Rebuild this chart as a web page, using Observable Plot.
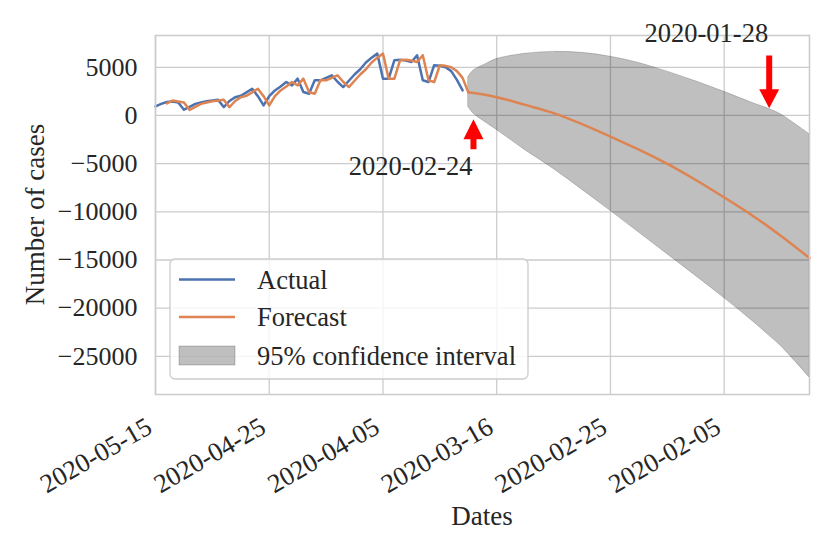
<!DOCTYPE html>
<html>
<head>
<meta charset="utf-8">
<script src="https://cdn.jsdelivr.net/npm/d3@7"></script>
<script src="https://cdn.jsdelivr.net/npm/@observablehq/plot@0.6"></script>
<style>
  body { margin: 0; background: white; }
</style>
</head>
<body>
<div id="chart"></div>
<script>
// ---- data ----
const actualStart = "2020-05-15"; // day 0; one value per day going back in time
const actualValues = [950,1200,1400,1450,1350,600,900,1200,1350,1480,1550,1620,870,1500,1900,2050,2400,2780,2000,1040,2000,2600,3000,3470,3120,3820,2430,2260,3650,3650,3900,4170,3500,2950,3600,4250,4800,5500,6000,6420,3820,3820,5730,5780,5700,5550,6250,3650,3470,5210,5150,5000,4600,3700,2600];

const fittedStart = "2020-05-13"; // in-sample forecast, one value per day going back
const fittedValues = [1250,1550,1450,1350,580,900,1200,1350,1480,1550,1620,850,1500,1900,2050,2400,2780,2000,1040,2000,2600,3000,3470,3120,3820,2430,2260,3650,3650,3900,4170,3500,2950,3600,4250,4800,5500,6000,6420,3820,3820,5730,5780,5700,5550,6250,3650,3470,5210,5150,5000,4600,3900];

const forecastDates = ["2020-03-21","2020-03-16","2020-03-11","2020-03-06","2020-03-01","2020-02-25","2020-02-20","2020-02-15","2020-02-10","2020-02-05","2020-01-31","2020-01-26","2020-01-21"];
const forecastValues = [2400,1900,1100,250,-900,-2190,-3550,-5030,-6700,-8510,-10400,-12500,-14800];

const ciDates = ["2020-03-21","2020-03-20","2020-03-18","2020-03-16","2020-03-11","2020-03-06","2020-03-01","2020-02-25","2020-02-20","2020-02-15","2020-02-10","2020-02-05","2020-01-31","2020-01-28","2020-01-26","2020-01-21"];
const ciUpper = [4000,4700,5300,5850,6400,6600,6500,6100,5450,4550,3550,2450,1300,650,100,-1950];
const ciLower = [870,150,-700,-1500,-3600,-5550,-7700,-9900,-12150,-14400,-16650,-18950,-21350,-22900,-23950,-27200];

const xTickLabels = ["2020-05-15","2020-04-25","2020-04-05","2020-03-16","2020-02-25","2020-02-05"];
const yTicks = [5000,0,-5000,-10000,-15000,-20000,-25000];
const xDomain = ["2020-05-15","2020-01-21"];
const yDomain = [-28960, 8300];

const seriesNames = ["Actual","Forecast","95% confidence interval"];
const seriesColors = ["#4c72b0","#dd8452","#000000"];

const annotations = [
  {label: "2020-02-24", date: "2020-03-20", tip: -450, tail: -3560, textAt: -6230, headLen: 20},
  {label: "2020-01-28", date: "2020-01-28", tip: 700, tail: 6160, textAt: 7610, headLen: 19}
];

// ---- build rows ----
const parse = d3.utcParse("%Y-%m-%d");
const fmt = d3.utcFormat("%Y-%m-%d");
const actualRows = actualValues.map((v, i) => ({date: d3.utcDay.offset(parse(actualStart), -i), value: v}));
const fittedRows = fittedValues.map((v, i) => ({date: d3.utcDay.offset(parse(fittedStart), -i), value: v}));
const outRows = forecastDates.map((d, i) => ({date: parse(d), value: forecastValues[i]}));
const fittedJoined = fittedRows.concat(outRows.slice(0, 1));
const ciRows = ciDates.map((d, i) => ({date: parse(d), upper: ciUpper[i], lower: ciLower[i]}));

const textColor = "#262626";
const font = "'Liberation Serif', 'Times New Roman', serif";

const svg = Plot.plot({
  width: 830,
  height: 554,
  marginLeft: 155,
  marginRight: 21,
  marginTop: 35,
  marginBottom: 160,
  style: {fontFamily: font, fontSize: "26px", color: textColor, background: "white"},
  x: {type: "utc", domain: xDomain.map(parse), axis: null},
  y: {domain: yDomain, axis: null},
  marks: [
    Plot.gridX(xTickLabels.map(parse), {stroke: "#cccccc", strokeOpacity: 1, strokeWidth: 1.3}),
    Plot.gridY(yTicks, {stroke: "#cccccc", strokeOpacity: 1, strokeWidth: 1.3}),
    Plot.areaY(ciRows, {x: "date", y1: "lower", y2: "upper", fill: "black", fillOpacity: 0.25, stroke: "black", strokeOpacity: 0.18, strokeWidth: 1, curve: "catmull-rom"}),
    Plot.lineY(actualRows, {x: "date", y: "value", stroke: seriesColors[0], strokeWidth: 2.5}),
    Plot.lineY(fittedJoined, {x: "date", y: "value", stroke: seriesColors[1], strokeWidth: 2.5}),
    Plot.lineY(outRows, {x: "date", y: "value", stroke: seriesColors[1], strokeWidth: 2.5, curve: "catmull-rom"}),
    Plot.frame({stroke: "#cccccc", strokeWidth: 1.6}),
    Plot.text(yTicks, {y: d => d, text: d => d3.format("d")(d), frameAnchor: "left", textAnchor: "end", dx: -18, lineAnchor: "middle", fontSize: 26, fontVariant: "normal", fill: textColor}),
    Plot.text(xTickLabels.map(parse), {x: d => d, text: d => fmt(d), frameAnchor: "bottom", dy: 30, dx: -6, rotate: -30, textAnchor: "end", lineAnchor: "middle", fontSize: 26.5, fontVariant: "normal", fill: textColor})
  ]
});

const g = d3.select(svg);
const xs = svg.scale("x"), ys = svg.scale("y");

// axis labels
g.append("text").attr("x", 482).attr("y", 525).attr("text-anchor", "middle")
  .attr("font-size", 27).attr("fill", textColor).text("Dates");
g.append("text").attr("transform", "translate(44,214.5) rotate(-90)").attr("text-anchor", "middle")
  .attr("font-size", 27).attr("fill", textColor).text("Number of cases");

// annotations
for (const a of annotations) {
  const x = xs.apply(parse(a.date));
  const yt = ys.apply(a.tip), yl = ys.apply(a.tail);
  const s = yl > yt ? 1 : -1; // direction from tip to tail
  const hw = 10, sw = 3, yb = yt + s * a.headLen;
  const pts = [[x, yt], [x + hw, yb], [x + sw, yb], [x + sw, yl], [x - sw, yl], [x - sw, yb], [x - hw, yb]];
  g.append("polygon").attr("points", pts.map(p => p.join(",")).join(" ")).attr("fill", "red");
  g.append("text").attr("x", x - 1).attr("y", ys.apply(a.textAt)).attr("text-anchor", "end")
    .attr("font-size", 26.5).attr("fill", textColor).text(a.label);
}

// legend
const lg = g.append("g");
lg.append("rect").attr("x", 170).attr("y", 259).attr("width", 358).attr("height", 120).attr("rx", 5)
  .attr("fill", "white").attr("fill-opacity", 0.8).attr("stroke", "#cccccc").attr("stroke-width", 1.3);
const rowY = [279.5, 317, 355.5];
seriesNames.forEach((name, i) => {
  if (i < 2) {
    lg.append("line").attr("x1", 179).attr("x2", 235).attr("y1", rowY[i]).attr("y2", rowY[i])
      .attr("stroke", seriesColors[i]).attr("stroke-width", 2.5);
  } else {
    lg.append("rect").attr("x", 179).attr("y", rowY[i] - 9.5).attr("width", 56).attr("height", 19)
      .attr("fill", seriesColors[i]).attr("fill-opacity", 0.25).attr("stroke", "black").attr("stroke-opacity", 0.2);
  }
  lg.append("text").attr("x", 257).attr("y", rowY[i] + 9).attr("text-anchor", "start")
    .attr("font-size", 26.5).attr("fill", textColor).text(name);
});

// force the serif family on every text, overriding Plot's default stylesheet
g.selectAll("text").style("font-family", font).style("font-variant", "normal");

document.getElementById("chart").appendChild(svg);
</script>
</body>
</html>
